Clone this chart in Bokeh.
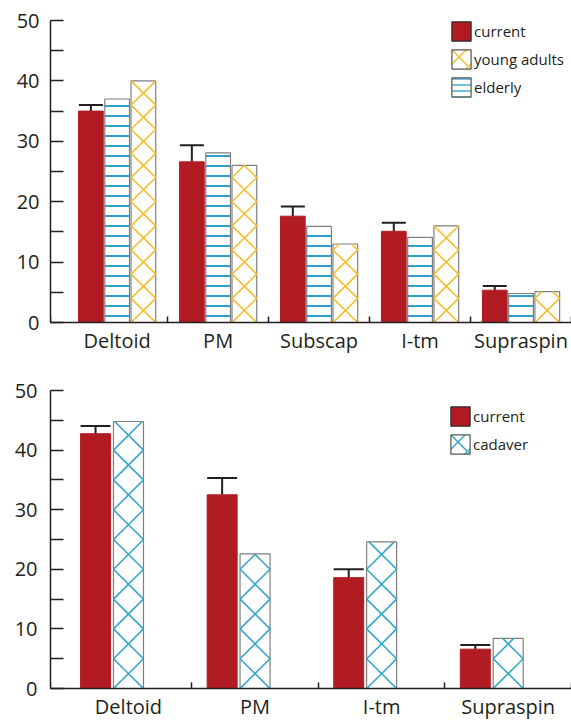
import numpy as np
from bokeh.plotting import figure
from bokeh.models import (ColumnDataSource, FixedTicker, Range1d, Whisker, TeeHead,
                          Legend, LegendItem)
from bokeh.layouts import column
from bokeh.embed import file_html
from bokeh.resources import INLINE

# ---------------- data: upper panel ----------------
muscles_a = ["Deltoid", "PM", "Subscap", "I-tm", "Supraspin"]
current_a = [35.0, 26.6, 17.6, 15.1, 5.35]
current_a_err = [1.0, 2.75, 1.6, 1.4, 0.7]
elderly_a = [37.0, 28.1, 15.9, 14.1, 4.8]
young_a = [40.0, 26.0, 13.0, 16.0, 5.1]

# ---------------- data: lower panel ----------------
muscles_b = ["Deltoid", "PM", "I-tm", "Supraspin"]
current_b = [42.75, 32.5, 18.6, 6.6]
current_b_err = [1.3, 2.8, 1.4, 0.7]
cadaver_b = [44.8, 22.6, 24.6, 8.4]

y_ticks = [0, 10, 20, 30, 40, 50]
y_minor = [5, 15, 25, 35, 45]

RED = "#B11C22"
YELLOW = "#F2BF2D"
CYAN = "#33A7C8"
BLUE = "#2E9ECB"
GRAY = "#7F7F7F"
INK = "#231F20"
FONT = "Open Sans"


def make_fig(names, x_start, height, bl, bt, bb, x_standoff, y_standoff):
    n = len(names)
    p = figure(width=571, height=height, output_backend="svg", toolbar_location=None,
               x_range=Range1d(x_start, n), y_range=Range1d(0, 50),
               min_border_left=bl, min_border_right=0, min_border_top=bt,
               min_border_bottom=bb)
    p.outline_line_color = None
    p.grid.visible = False
    p.background_fill_color = "white"
    centers = [float(i) + 0.5 for i in range(n)]
    xa = p.xaxis[0]
    xa.ticker = FixedTicker(ticks=centers, minor_ticks=list(range(1, n + 1)))
    xa.major_label_overrides = {c: nm for c, nm in zip(centers, names)}
    xa.major_tick_in = 0
    xa.major_tick_out = 0
    xa.major_tick_line_color = None
    xa.minor_tick_in = 6
    xa.minor_tick_out = 0
    xa.minor_tick_line_color = INK
    xa.minor_tick_line_width = 1.5
    xa.axis_line_color = INK
    xa.axis_line_width = 1.5
    xa.major_label_text_font = FONT
    xa.major_label_text_font_size = "20px"
    xa.major_label_text_color = INK
    xa.major_label_standoff = x_standoff

    ya = p.yaxis[0]
    ya.ticker = FixedTicker(ticks=y_ticks, minor_ticks=y_minor)
    ya.major_tick_in = 13
    ya.major_tick_out = 0
    ya.minor_tick_in = 13
    ya.minor_tick_out = 0
    ya.major_tick_line_color = INK
    ya.minor_tick_line_color = INK
    ya.major_tick_line_width = 1.5
    ya.minor_tick_line_width = 1.5
    ya.axis_line_color = INK
    ya.axis_line_width = 1.5
    ya.major_label_text_font = FONT
    ya.major_label_text_font_size = "20px"
    ya.major_label_text_color = INK
    ya.major_label_standoff = y_standoff
    return p


def x_hatch(xc, width, vals, tile):
    x0s, y0s, x1s, y1s = [], [], [], []
    for x, v in zip(xc, vals):
        xl, xr = x - width / 2, x + width / 2
        k = 0
        while k * tile < v - 1e-9:
            yb = k * tile
            frac = min(1.0, (v - yb) / tile)
            yt = yb + frac * tile
            x0s += [xl, xr]
            y0s += [yb, yb]
            x1s += [xl + frac * width, xr - frac * width]
            y1s += [yt, yt]
            k += 1
    return ColumnDataSource(dict(x0=x0s, y0=y0s, x1=x1s, y1=y1s))


def add_errors(p, xs, vals, errs, cap):
    vals = np.asarray(vals)
    src = ColumnDataSource(dict(base=list(xs), lower=list(vals),
                                upper=list(vals + np.asarray(errs))))
    w = Whisker(source=src, base="base", lower="lower", upper="upper",
                dimension="height", line_color=INK, line_width=2,
                upper_head=TeeHead(size=cap, line_color=INK, line_width=2),
                lower_head=None)
    p.add_layout(w)


# legend-only glyphs sit outside the visible x range
OFF = [-50.0]
GL = 24  # legend glyph box (swatch drawn at 80% of it)

# ================= upper panel =================
FH1 = 302
p1 = make_fig(muscles_a, -0.16, 378, 48, 20, 56, 4, 11)
idx_a = np.arange(len(muscles_a)) + 0.5
bw_a = 0.245
x_cur_a = idx_a - 0.26
x_eld_a = idx_a + 0.0
x_yng_a = idx_a + 0.26

p1.vbar(x=x_cur_a, top=current_a, width=bw_a, fill_color=RED, line_color=RED, line_width=1)
p1.vbar(x=x_eld_a, top=elderly_a, width=bw_a, fill_color="white", line_color=GRAY,
        line_width=1.2, hatch_pattern="horizontal_line", hatch_scale=10,
        hatch_color=BLUE, hatch_weight=2)
p1.vbar(x=x_yng_a, top=young_a, width=bw_a, fill_color="white", line_color=GRAY,
        line_width=1.2)
p1.segment(x0="x0", y0="y0", x1="x1", y1="y1", source=x_hatch(x_yng_a, bw_a, young_a, 4.0),
           line_color=YELLOW, line_width=1.6)
add_errors(p1, x_cur_a, current_a, current_a_err, 24)

lg_cur = p1.vbar(x=OFF, top=[1], width=0.1, fill_color=RED, line_color="#2a2a2a", line_width=1.2)
lg_yng = p1.vbar(x=OFF, top=[1], width=0.1, fill_color="white", line_color="#555555",
                 line_width=1.2, hatch_pattern="diagonal_cross", hatch_scale=19,
                 hatch_color=YELLOW, hatch_weight=1.5)
lg_eld = p1.vbar(x=OFF, top=[1], width=0.1, fill_color="white", line_color="#555555",
                 line_width=1.2, hatch_pattern="horizontal_line", hatch_scale=6,
                 hatch_color=BLUE, hatch_weight=1.3)
leg1 = Legend(items=[LegendItem(label="current", renderers=[lg_cur]),
                     LegendItem(label="young adults", renderers=[lg_yng]),
                     LegendItem(label="elderly", renderers=[lg_eld])],
              location=(399, FH1 + 1 - (3 * GL + 2 * 4)), orientation="vertical",
              padding=0, margin=0, spacing=4, glyph_width=GL, glyph_height=GL,
              label_height=GL, label_standoff=1, label_text_font=FONT,
              label_text_font_size="15px", label_text_color=INK,
              border_line_color=None, background_fill_alpha=0)
p1.add_layout(leg1)

# ================= lower panel =================
FH2 = 299
p2 = make_fig(muscles_b, -0.116, 344, 50, 12, 33, 4, 13)
idx_b = np.arange(len(muscles_b)) + 0.5
bw_b = 0.237
x_cur_b = idx_b - 0.26
x_cad_b = idx_b + 0.0

p2.vbar(x=x_cur_b, top=current_b, width=bw_b, fill_color=RED, line_color=RED, line_width=1)
p2.vbar(x=x_cad_b, top=cadaver_b, width=bw_b, fill_color="white", line_color=GRAY,
        line_width=1.2)
p2.segment(x0="x0", y0="y0", x1="x1", y1="y1", source=x_hatch(x_cad_b, bw_b, cadaver_b, 5.0),
           line_color=CYAN, line_width=1.6)
add_errors(p2, x_cur_b, current_b, current_b_err, 30)

lg2_cur = p2.vbar(x=OFF, top=[1], width=0.1, fill_color=RED, line_color="#2a2a2a", line_width=1.2)
lg2_cad = p2.vbar(x=OFF, top=[1], width=0.1, fill_color="white", line_color="#555555",
                  line_width=1.2, hatch_pattern="diagonal_cross", hatch_scale=19,
                  hatch_color=CYAN, hatch_weight=1.5)
leg2 = Legend(items=[LegendItem(label="current", renderers=[lg2_cur]),
                     LegendItem(label="cadaver", renderers=[lg2_cad])],
              location=(398, FH2 - 15 - (2 * GL + 4)), orientation="vertical",
              padding=0, margin=0, spacing=4, glyph_width=GL, glyph_height=GL,
              label_height=GL, label_standoff=1, label_text_font=FONT,
              label_text_font_size="15px", label_text_color=INK,
              border_line_color=None, background_fill_alpha=0)
p2.add_layout(leg2)

layout = column(p1, p2, spacing=0)
open("out.html", "w").write(file_html(layout, INLINE))
